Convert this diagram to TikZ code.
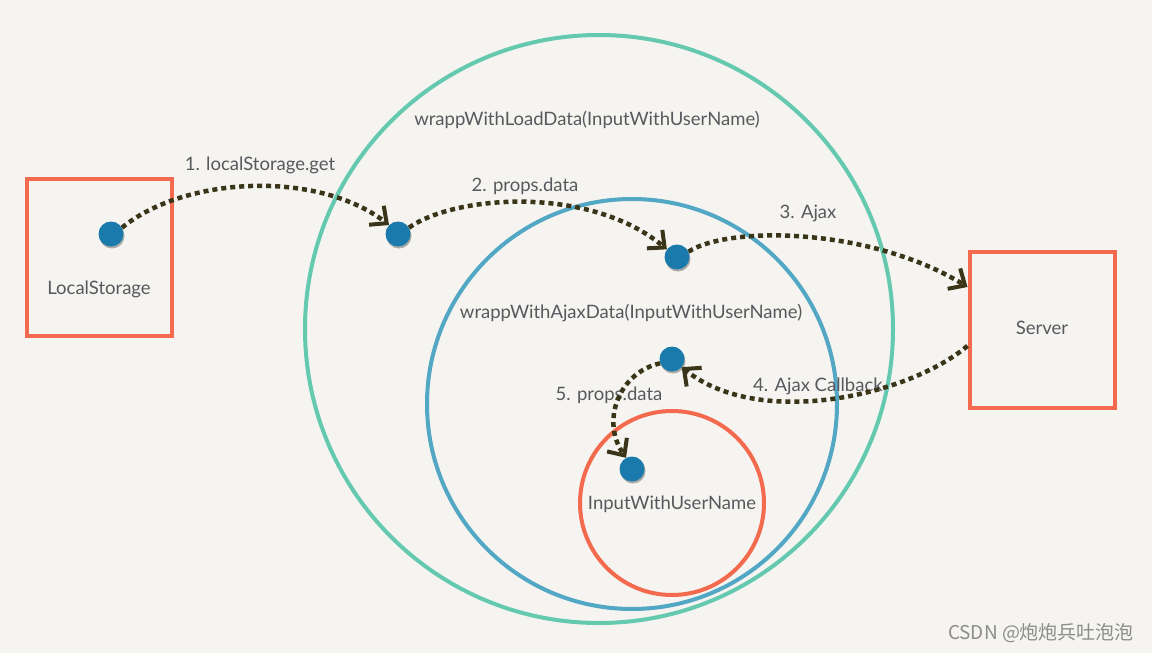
\documentclass[tikz,border=0pt]{standalone}
\usepackage{fontspec}
\setmainfont{Lato}
\newfontfamily\cjkfont{Noto Sans CJK SC}
\usetikzlibrary{arrows.meta,shadows}
\definecolor{bgc}{RGB}{245,244,240}
\definecolor{coral}{RGB}{244,106,78}
\definecolor{tealc}{RGB}{100,201,175}
\definecolor{bluec}{RGB}{82,167,196}
\definecolor{dotc}{RGB}{26,122,172}
\definecolor{arrc}{RGB}{58,52,25}
\definecolor{txtc}{RGB}{88,89,94}
\tikzset{
  boxn/.style={draw=coral, line width=4pt, minimum width=145pt, minimum height=157pt, inner sep=0pt},
  ringn/.style={circle, line width=4pt, inner sep=0pt},
  dotn/.style={circle, fill=dotc, minimum size=25pt, inner sep=0pt,
    drop shadow={shadow xshift=1pt, shadow yshift=-2pt, opacity=0.3, fill=black}},
  lbl/.style={text=txtc, font=\fontsize{18.5}{22}\selectfont, inner sep=0pt},
  conn/.style={draw=arrc, line width=4.5pt, dash pattern=on 5pt off 4pt,
    -{Straight Barb[length=13pt, width=24pt, line width=4pt]}},
}
\begin{document}
\begin{tikzpicture}[x=1pt,y=-1pt]
\fill[bgc] (0,0) rectangle (1152,653);
\useasboundingbox (0,0) rectangle (1152,653);

% rings
\node[ringn, draw=tealc, minimum size=588pt] (outer) at (599,329) {};
\node[ringn, draw=bluec, minimum size=410pt] (middle) at (632,404) {};
\node[ringn, draw=coral, minimum size=184pt] (inner) at (672,503) {};

% boxes
\node[boxn] (ls) at (99.5,257.5) {};
\node[boxn, minimum height=156pt] (srv) at (1042,330) {};

% labels
\node[lbl] (lsl) at (99,289) {LocalStorage};
\node[lbl] (srvl) at (1042,328) {Server};
\node[lbl] (outl) at (587,120) {wrappWithLoadData(InputWithUserName)};
\node[lbl] (midl) at (631,313) {wrappWithAjaxData(InputWithUserName)};
\node[lbl] (innl) at (672,504) {InputWithUserName};
\node[lbl] (s1) at (260,165) {1. localStorage.get};
\node[lbl] (s2) at (525,186) {2. props.data};
\node[lbl] (s3) at (808,213) {3. Ajax};
\node[lbl] (s4) at (818,386) {4. Ajax Callback};
\node[lbl] (s5) at (609,395) {5. props.data};

% dots
\node[dotn] (d1) at (111,234) {};
\node[dotn] (d2) at (398,234) {};
\node[dotn] (d3) at (677,257) {};
\node[dotn] (d4) at (672,359) {};
\node[dotn] (d5) at (632,469) {};

% connectors
\draw[conn] (d1.30) .. controls (185,176) and (318,170) .. (d2.135);
\draw[conn] (d2.30) .. controls (455,195) and (590,185) .. (d3.143);
\draw[conn] (d3.25) .. controls (730,225) and (872,228) .. (srv.150);
\draw[conn] (srv.192) .. controls (910,395) and (760,430) .. (d4.-40);
\draw[conn] (d4.200) .. controls (620,372) and (600,420) .. (d5.118);

% watermark
\node[text=black!45, font=\cjkfont\fontsize{19}{22}\selectfont, inner sep=0pt] (wm) at (1041,633) {CSDN @炮炮兵吐泡泡};
\end{tikzpicture}
\end{document}
